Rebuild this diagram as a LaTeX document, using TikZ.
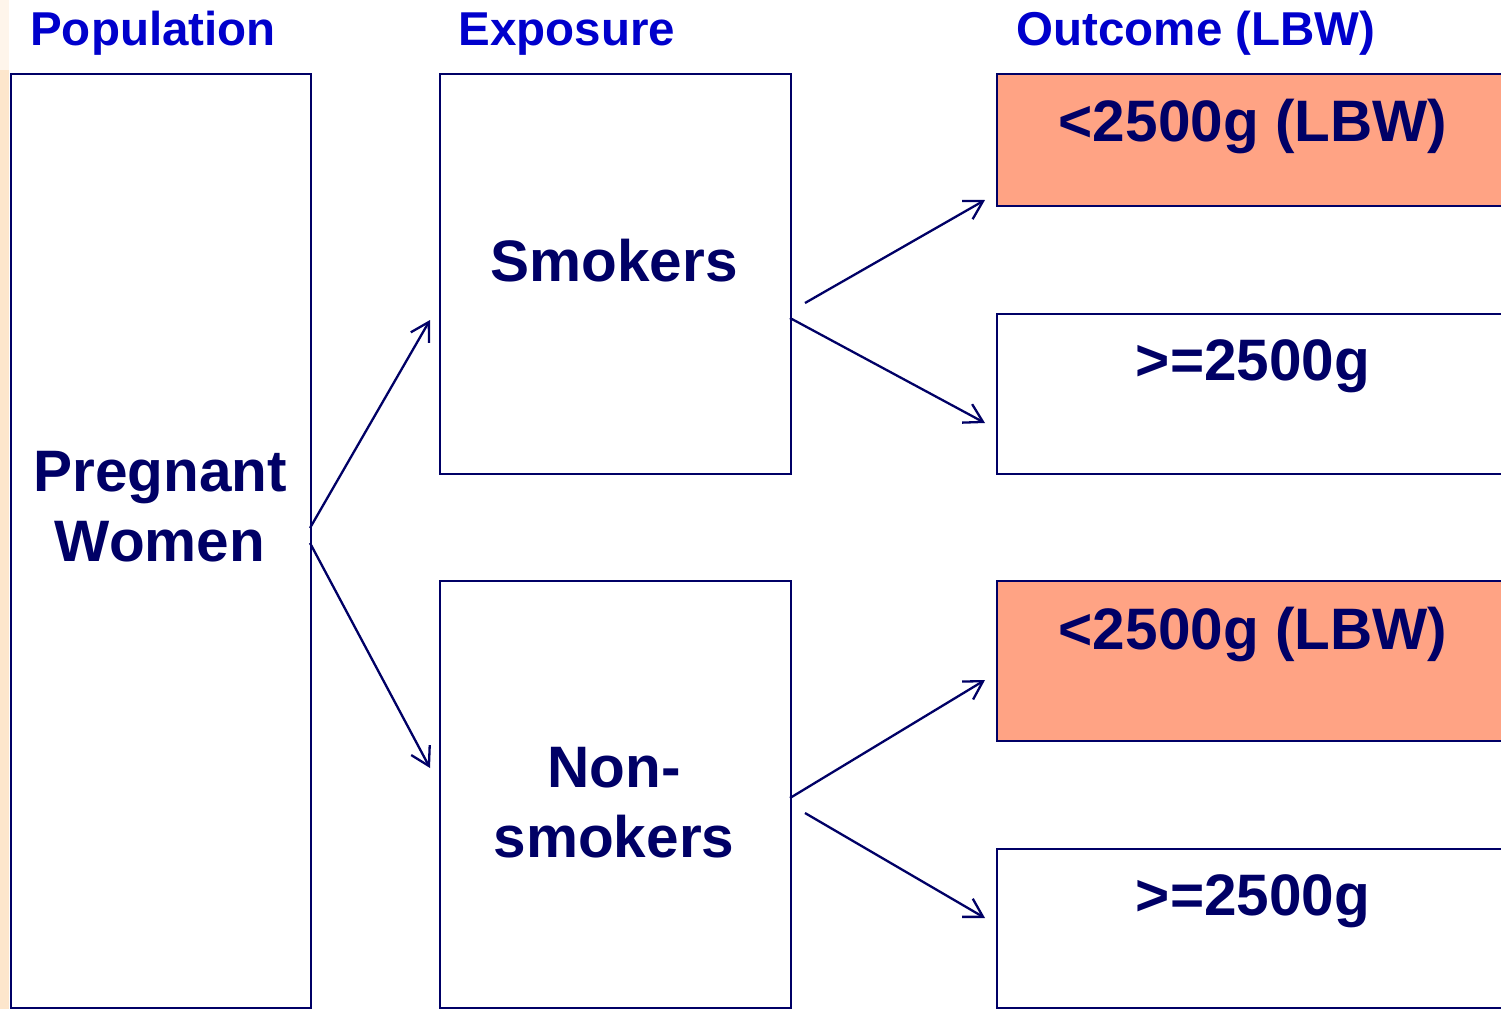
\documentclass[tikz,border=0pt]{standalone}
\usepackage{fontspec}
\setmainfont{Liberation Sans}
\usetikzlibrary{arrows.meta}
\definecolor{navy}{HTML}{000066}
\definecolor{titleblue}{HTML}{0000CC}
\definecolor{salmon}{HTML}{FFA384}
\definecolor{bgpeach}{HTML}{FDE6CC}
\begin{document}
\begin{tikzpicture}[x=1pt,y=-1pt,
  boxstyle/.style={draw=navy,line width=2.4pt,inner sep=0pt,anchor=north west},
  lbwbox/.style={boxstyle,fill=salmon},
  title/.style={text=titleblue,font=\fontsize{47.5}{56}\selectfont\bfseries,anchor=base,inner sep=0pt},
  boxtext/.style={text=navy,font=\fontsize{58.5}{70}\selectfont\bfseries,anchor=base,inner sep=0pt},
  conn/.style={draw=navy,line width=2.3pt,-{Straight Barb[length=18pt,width=21pt,line width=2.3pt]}}]
\useasboundingbox (0,0) rectangle (1501,1009);
\fill[white] (0,0) rectangle (1501,1009);
\fill[bgpeach] (0,70) rectangle (9,1009);
\fill[bgpeach!40] (0,0) rectangle (9,70);
% titles
\node[title] (tpop) at (153,45) {Population};
\node[title] (texp) at (567,45) {Exposure};
\node[title] (tout) at (1196,45) {Outcome (LBW)};
% boxes
\node[boxstyle,minimum width=300pt,minimum height=934pt] (pop) at (10,73) {};
\node[boxstyle,minimum width=351pt,minimum height=400pt] (smk) at (439,73) {};
\node[boxstyle,minimum width=351pt,minimum height=427pt] (non) at (439,580) {};
\node[lbwbox,minimum width=520pt,minimum height=132pt] (o1) at (996,73) {};
\node[boxstyle,minimum width=520pt,minimum height=160pt] (o2) at (996,313) {};
\node[lbwbox,minimum width=520pt,minimum height=160pt] (o3) at (996,580) {};
\node[boxstyle,minimum width=520pt,minimum height=159pt] (o4) at (996,848) {};
% texts
\node[boxtext] (tpreg) at (160,491) {Pregnant};
\node[boxtext] (twom) at (160,561) {Women};
\node[boxtext] (tsmk) at (614,281) {Smokers};
\node[boxtext] (tnon1) at (614,787) {Non-};
\node[boxtext] (tnon2) at (614,857) {smokers};
\node[boxtext] (to1) at (1253,141) {<2500g (LBW)};
\node[boxtext] (to2) at (1253,380) {>=2500g};
\node[boxtext] (to3) at (1253,649) {<2500g (LBW)};
\node[boxtext] (to4) at (1253,915) {>=2500g};
% connector ends
\coordinate (p1) at (310,528);
\coordinate (p2) at (310,543);
\coordinate (s0) at (430,320);
\coordinate (n0) at (430,768);
\coordinate (s1) at (805,303);
\coordinate (s2) at (790,318);
\coordinate (n1) at (790,798);
\coordinate (n2) at (805,813);
\coordinate (e1) at (985,200);
\coordinate (e2) at (985,423);
\coordinate (e3) at (985,680);
\coordinate (e4) at (985,918);
\draw[conn] (p1) -- (s0);
\draw[conn] (p2) -- (n0);
\draw[conn] (s1) -- (e1);
\draw[conn] (s2) -- (e2);
\draw[conn] (n1) -- (e3);
\draw[conn] (n2) -- (e4);
\end{tikzpicture}
\end{document}
